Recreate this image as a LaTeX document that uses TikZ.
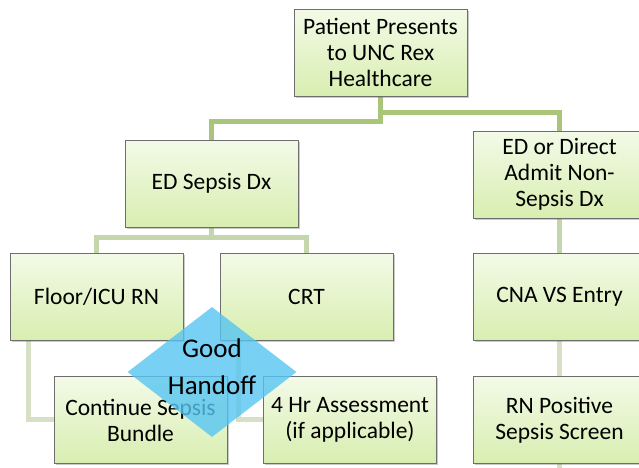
\documentclass[tikz,border=0pt]{standalone}
\usepackage{fontspec}
\setmainfont{Carlito}
\usetikzlibrary{shapes.geometric,shadows}
\pgfdeclarelayer{bg}
\pgfsetlayers{bg,main}
\definecolor{boxtop}{HTML}{F3FAE8}
\definecolor{boxbot}{HTML}{D8EEB0}
\definecolor{boxline}{HTML}{6E6E6E}
\definecolor{linkA}{HTML}{A9C57A}
\definecolor{linkB}{HTML}{C6D6AC}
\definecolor{linkC}{HTML}{D5E0C6}
\definecolor{diam}{HTML}{56C5F2}
\begin{document}
\begin{tikzpicture}[x=1pt,y=-1pt,
  box/.style={draw=boxline, line width=0.8pt, top color=boxtop, bottom color=boxbot,
    minimum width=173pt, minimum height=87pt, align=center, inner sep=2pt,
    font=\fontsize{23.5}{26}\selectfont,
    drop shadow={shadow xshift=1.5pt, shadow yshift=-1.5pt, opacity=0.35, fill=black!60}},
  linka/.style={draw=linkA, line width=5pt},
  linkb/.style={draw=linkB, line width=5pt},
  linkc/.style={draw=linkC, line width=5pt},
  handoff/.style={diamond, fill=diam, fill opacity=0.8, minimum width=169pt, minimum height=130pt,
    inner sep=0pt},
  handtext/.style={align=center, font=\fontsize{27}{37}\selectfont}]
\useasboundingbox (0,0) rectangle (639,467);

\node[box] (pp) at (380.5,52.5) {Patient Presents\\to UNC Rex\\Healthcare};
\node[box] (ed) at (211.5,183.5) {ED Sepsis Dx};
\node[box] (nd) at (559.5,174.5) {ED or Direct\\Admit Non-\\Sepsis Dx};
\node[box] (fl) at (96.5,296.5) {Floor/ICU RN};
\node[box] (crt) at (306.5,296.5) {CRT};
\node[box] (cna) at (559.5,296.5) {CNA VS Entry};
\node[box] (cb) at (140.5,420) {Continue Sepsis\\Bundle};
\node[box] (hr) at (350,420) {4 Hr Assessment\\(if applicable)};
\node[box] (rn) at (559.5,420) {RN Positive\\Sepsis Screen};

\coordinate (ja) at (211.5,121);
\coordinate (jb) at (559.5,112);
\coordinate (jc) at (96.5,237);
\coordinate (jd) at (306.5,237);
\coordinate (ka) at (28.5,419);
\coordinate (kb) at (238,419);
\coordinate (stub) at (559.5,470);

\begin{pgfonlayer}{bg}
\draw[linka] (pp.south) |- (ja) -- (ed.north);
\draw[linka] (pp.south) |- (jb) -- (nd.north);
\draw[linkb] (ed.south) -- (ed.south |- jc);
\draw[linkb] (fl.north) -- (jc) -- (jd) -- (crt.north);
\draw[linkc] (fl.south -| ka) -- (ka) -- (cb.west |- ka);
\draw[linkc] (crt.south -| kb) -- (kb) -- (hr.west |- kb);
\draw[linkb] (nd.south) -- (cna.north);
\draw[linkc] (cna.south) -- (rn.north);
\draw[linkc] (rn.south) -- (stub);
\end{pgfonlayer}

\node[handoff] (gh) at (212,372) {};
\node[handtext] (ght) at (212,367) {Good\\Handoff};
\end{tikzpicture}
\end{document}
